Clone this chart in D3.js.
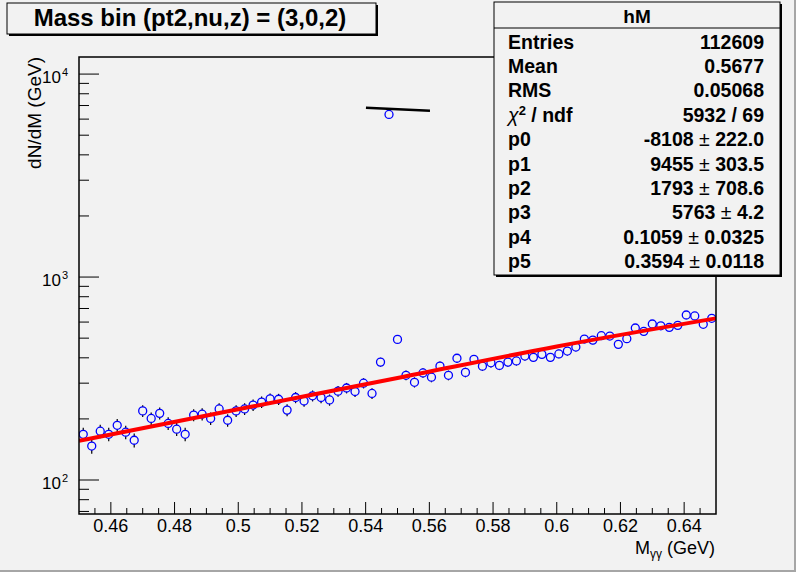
<!DOCTYPE html>
<html>
<head>
<meta charset="utf-8">
<script src="https://cdn.jsdelivr.net/npm/d3@7/dist/d3.min.js"></script>
<style>
  body { margin: 0; background: #f2f2f2; }
  svg { display: block; font-family: "Liberation Sans", Arial, Helvetica, sans-serif; }
</style>
</head>
<body>
<div id="chart"></div>
<script>
// histogram hM, 75 bins from 0.45 to 0.65 GeV
var xMin = 0.45, xMax = 0.65;
var binValues = [
    168, 147, 174, 168, 186, 172, 157, 219, 201, 213,
    190, 178, 168, 209, 211, 201, 224, 197, 219, 224,
    234, 242, 251, 250, 221, 255, 245, 260, 255, 248,
    274, 284, 273, 300, 267, 381, 6325, 493, 328, 303,
    337, 321, 364, 328, 398, 339, 393, 364, 378, 367,
    381, 386, 408, 402, 416, 402, 418, 432, 452, 495,
    489, 514, 512, 466, 497, 561, 540, 587, 575, 565,
    578, 650, 643, 585, 626
];
// fit curve (x, y)
var fitX = [0.45, 0.50, 0.55, 0.60, 0.65];
var fitY = [156, 223, 318, 455, 626];
// short black segment near the peak
var peakX = [0.5401, 0.5602];
var peakY = [6820, 6590];

var xTicks = [0.46, 0.48, 0.5, 0.52, 0.54, 0.56, 0.58, 0.6, 0.62, 0.64];
var xTickLabels = ["0.46", "0.48", "0.5", "0.52", "0.54", "0.56", "0.58", "0.6", "0.62", "0.64"];
var yDecades = [100, 1000, 10000];
var yDecadeExp = ["2", "3", "4"];

var statNames = ["Entries", "Mean", "RMS", "chi", "p0", "p1", "p2", "p3", "p4", "p5"];
var statValues = ["112609", "0.5677", "0.05068", "5932 / 69", "-8108", "9455", "1793", "5763", "0.1059", "0.3594"];
var statErrors = [null, null, null, null, "222.0", "303.5", "708.6", "4.2", "0.0325", "0.0118"];

var W = 796, H = 572;
var frame = {left: 79, right: 716, top: 57, bottom: 514};

var svg = d3.select("#chart").append("svg")
    .attr("width", W)
    .attr("height", H);

svg.append("rect").attr("width", W).attr("height", H).attr("fill", "#f2f2f2");
// canvas bevel
svg.append("rect").attr("x", W - 2).attr("y", 0).attr("width", 2).attr("height", H).attr("fill", "#a6a6a6");
svg.append("rect").attr("x", 0).attr("y", H - 2).attr("width", W).attr("height", 2).attr("fill", "#a6a6a6");

var x = d3.scaleLinear().domain([xMin, xMax]).range([frame.left, frame.right]);
var y = d3.scaleLog().domain([68, 12140]).range([frame.bottom, frame.top]);

var binW = (xMax - xMin) / binValues.length;
var bins = binValues.map(function(v, i) {
    return {x: xMin + (i + 0.5) * binW, v: v, e: Math.sqrt(v)};
});

// x axis ticks, major and minor (0.005)
var minorX = d3.range(0, 41).map(function(i) { return xMin + i * 0.005; })
    .filter(function(d) { return d > xMin + 1e-9 && d < xMax - 1e-9; });
svg.append("g").selectAll("line").data(minorX).enter().append("line")
    .attr("x1", function(d) { return x(d); })
    .attr("x2", function(d) { return x(d); })
    .attr("y1", frame.bottom)
    .attr("y2", function(d) {
        var isMajor = xTicks.some(function(t) { return Math.abs(t - d) < 1e-6; });
        return frame.bottom - (isMajor ? 12 : 6);
    })
    .attr("stroke", "#000").attr("stroke-width", 1);

svg.append("g").selectAll("text").data(xTicks).enter().append("text")
    .attr("x", function(d) { return x(d); })
    .attr("y", 532)
    .attr("text-anchor", "middle")
    .attr("font-size", 18)
    .text(function(d, i) { return xTickLabels[i]; });

// y axis ticks, log decades and 2..9 minors
var minorY = [];
[10, 100, 1000, 10000].forEach(function(dec) {
    for (var k = 1; k < 10; k++) {
        var val = dec * k;
        if (val >= 68 && val <= 12140) minorY.push(val);
    }
});
svg.append("g").selectAll("line").data(minorY).enter().append("line")
    .attr("x1", frame.left)
    .attr("x2", function(d) { return frame.left + (yDecades.indexOf(d) >= 0 ? 20 : 10); })
    .attr("y1", function(d) { return y(d); })
    .attr("y2", function(d) { return y(d); })
    .attr("stroke", "#000").attr("stroke-width", 1);

svg.append("g").selectAll("text").data(yDecades).enter().append("text")
    .attr("x", 61)
    .attr("y", function(d) { return y(d) + 9; })
    .attr("text-anchor", "end")
    .attr("font-size", 17)
    .text("10");
svg.append("g").selectAll("text").data(yDecades).enter().append("text")
    .attr("x", 62)
    .attr("y", function(d) { return y(d) + 1.5; })
    .attr("font-size", 11)
    .text(function(d, i) { return yDecadeExp[i]; });

// axis titles
svg.append("text")
    .attr("transform", "translate(41," + frame.top + ") rotate(-90)")
    .attr("text-anchor", "end")
    .attr("font-size", 19)
    .text("dN/dM (GeV)");

var xt = svg.append("text")
    .attr("x", 715).attr("y", 554)
    .attr("text-anchor", "end")
    .attr("font-size", 18);
xt.append("tspan").text("M");
xt.append("tspan").attr("font-size", 12).attr("dy", 4).text("γγ");
xt.append("tspan").attr("dy", -4).text(" (GeV)");

var plot = svg.append("g");
svg.append("clipPath").attr("id", "clip").append("rect")
    .attr("x", frame.left).attr("y", frame.top)
    .attr("width", frame.right - frame.left).attr("height", frame.bottom - frame.top);
plot.attr("clip-path", "url(#clip)");

// error bars outside the marker
var r = 4;
var errs = plot.append("g").selectAll("g").data(bins).enter().append("g");
errs.append("line")
    .attr("x1", function(d) { return x(d.x); })
    .attr("x2", function(d) { return x(d.x); })
    .attr("y1", function(d) { return y(d.v + d.e); })
    .attr("y2", function(d) { return Math.max(y(d.v + d.e), y(d.v) - r); })
    .attr("stroke", "#000").attr("stroke-width", 1.2);
errs.append("line")
    .attr("x1", function(d) { return x(d.x); })
    .attr("x2", function(d) { return x(d.x); })
    .attr("y1", function(d) { return Math.min(y(d.v - d.e), y(d.v) + r); })
    .attr("y2", function(d) { return y(d.v - d.e); })
    .attr("stroke", "#000").attr("stroke-width", 1.2);

plot.append("g").selectAll("circle").data(bins).enter().append("circle")
    .attr("cx", function(d) { return x(d.x); })
    .attr("cy", function(d) { return y(d.v); })
    .attr("r", r)
    .attr("fill", "none")
    .attr("stroke", "#0000ff")
    .attr("stroke-width", 1.3);

// fit function
var fitPts = fitX.map(function(d, i) { return [d, fitY[i]]; });
plot.append("path")
    .datum(fitPts)
    .attr("d", d3.line()
        .x(function(d) { return x(d[0]); })
        .y(function(d) { return y(d[1]); })
        .curve(d3.curveMonotoneX))
    .attr("fill", "none")
    .attr("stroke", "#ff0000")
    .attr("stroke-width", 4);

var peakPts = peakX.map(function(d, i) { return [d, peakY[i]]; });
plot.append("path")
    .datum(peakPts)
    .attr("d", d3.line()
        .x(function(d) { return x(d[0]); })
        .y(function(d) { return y(d[1]); }))
    .attr("fill", "none")
    .attr("stroke", "#000")
    .attr("stroke-width", 2.5);

// frame
svg.append("rect")
    .attr("x", frame.left).attr("y", frame.top)
    .attr("width", frame.right - frame.left).attr("height", frame.bottom - frame.top)
    .attr("fill", "none").attr("stroke", "#000").attr("stroke-width", 1.5);

// title box with shadow
svg.append("rect").attr("x", 9).attr("y", 5).attr("width", 369).attr("height", 31).attr("fill", "#000");
svg.append("rect").attr("x", 7).attr("y", 3).attr("width", 369).attr("height", 31)
    .attr("fill", "#f2f2f2").attr("stroke", "#000").attr("stroke-width", 1);
svg.append("text")
    .attr("x", 190).attr("y", 26)
    .attr("text-anchor", "middle")
    .attr("font-size", 24).attr("font-weight", "bold")
    .text("Mass bin (pt2,nu,z) = (3,0,2)");

// stats box
var sb = {x: 494, y: 2, w: 286, h: 273};
svg.append("rect").attr("x", sb.x + 2).attr("y", sb.y + 2).attr("width", sb.w).attr("height", sb.h).attr("fill", "#000");
svg.append("rect").attr("x", sb.x).attr("y", sb.y).attr("width", sb.w).attr("height", sb.h)
    .attr("fill", "#f2f2f2").attr("stroke", "#000").attr("stroke-width", 1);
svg.append("line").attr("x1", sb.x).attr("x2", sb.x + sb.w).attr("y1", 28).attr("y2", 28)
    .attr("stroke", "#000").attr("stroke-width", 1);
svg.append("text")
    .attr("x", sb.x + sb.w / 2).attr("y", 23)
    .attr("text-anchor", "middle")
    .attr("font-size", 19).attr("font-weight", "bold")
    .text("hM");

var rowY = d3.scaleLinear().domain([0, 1]).range([48.5, 72.9]);
statNames.forEach(function(name, i) {
    var t = svg.append("text")
        .attr("x", 508).attr("y", rowY(i))
        .attr("font-size", 19.5).attr("font-weight", "bold");
    if (name === "chi") {
        t.append("tspan").attr("font-weight", "normal").attr("font-style", "italic").text("χ");
        t.append("tspan").attr("font-size", 13).attr("dy", -7).text("2");
        t.append("tspan").attr("dy", 7).text(" / ndf");
    } else {
        t.text(name);
    }
    var v = svg.append("text")
        .attr("x", 764).attr("y", rowY(i))
        .attr("text-anchor", "end")
        .attr("font-size", 19.5).attr("font-weight", "bold");
    v.append("tspan").text(statValues[i]);
    if (statErrors[i] !== null) {
        v.append("tspan").attr("font-weight", "normal").text(" ± ");
        v.append("tspan").text(statErrors[i]);
    }
});
</script>
</body>
</html>
